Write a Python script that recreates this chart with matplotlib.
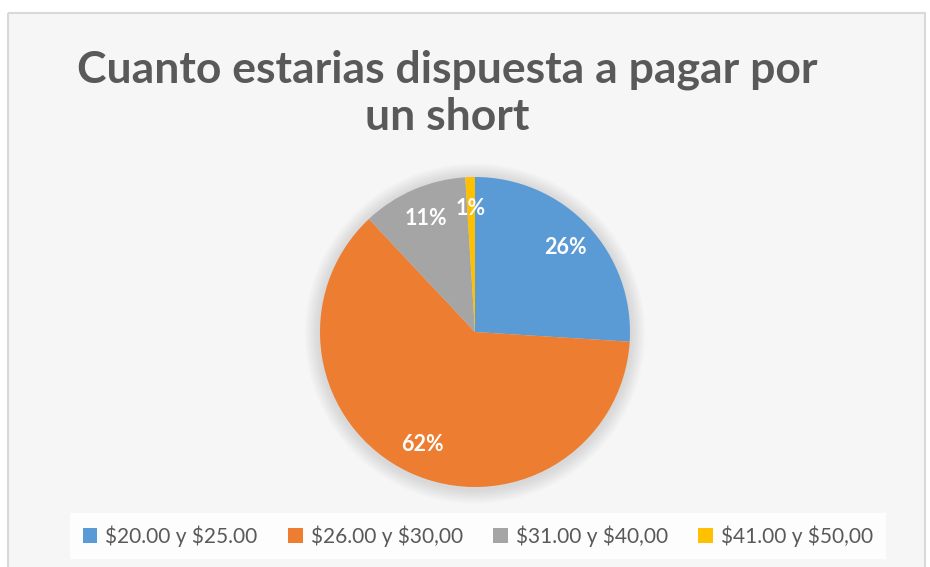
import matplotlib.pyplot as plt
from matplotlib.patches import Rectangle, Circle, Patch

# data
labels = [r'\$20.00 y \$25.00', r'\$26.00 y \$30,00', r'\$31.00 y \$40,00', r'\$41.00 y \$50,00']
values = [26, 62, 11, 1]
colors = ['#5B9BD5', '#ED7D31', '#A5A5A5', '#FFC000']
title = 'Cuanto estarias dispuesta a pagar por\nun short'

plt.rcParams['font.family'] = ['Lato', 'DejaVu Sans']
plt.rcParams['hatch.linewidth'] = 1.2

fig = plt.figure(figsize=(9.3, 5.67), dpi=100)
fig.patch.set_facecolor('white')

# background axes: chart area with light diagonal stripes and thin border
bgax = fig.add_axes([0, 0, 1, 1], zorder=-10)
bgax.set_xlim(0, 930)
bgax.set_ylim(567, 0)
bgax.axis('off')
bgax.add_patch(Rectangle((8, 13), 917, 600, facecolor='white', edgecolor='#f6f6f6',
                         hatch='\\' * 14, linewidth=0))
bgax.add_patch(Rectangle((8, 13), 917, 600, facecolor='none', edgecolor='#d9d9d9', linewidth=1.5))

# pie
ax = fig.add_axes([320 / 930, 80 / 567, 310 / 930, 310 / 567])
ax.set_facecolor('none')

# soft shadow around the pie
for i in range(8):
    ax.add_patch(Circle((0, -0.01), 1.0 + 0.012 * (i + 1), color='#9a9a9a', alpha=0.045,
                        lw=0, zorder=0, clip_on=False))

wedges, texts, autotexts = ax.pie(
    values, colors=colors, startangle=90, counterclock=False,
    autopct='%1.0f%%', pctdistance=0.8,
    wedgeprops=dict(linewidth=0),
    textprops=dict(color='white', fontsize=15.5, fontweight='bold'))
for w in wedges:
    w.set_zorder(2)
for t in autotexts:
    t.set_zorder(3)
ax.set_xlim(-1, 1)
ax.set_ylim(-1, 1)
ax.set_aspect('equal')
ax.axis('off')

fig.text(0.481, 0.836, title, ha='center', va='center', fontsize=32, fontweight='bold',
         color='#595959', linespacing=1.2)

handles = [Patch(facecolor=c, edgecolor='none') for c in colors]
leg = fig.legend(handles, labels, loc='center', bbox_to_anchor=(478 / 930, 1 - 536 / 567),
                 ncol=4, frameon=True, fontsize=15, handlelength=0.7, handleheight=0.7,
                 handletextpad=0.4, columnspacing=1.45, borderpad=0.6, fancybox=False)
leg.get_frame().set_facecolor('white')
leg.get_frame().set_edgecolor('none')
leg.get_frame().set_alpha(0.85)
for t in leg.get_texts():
    t.set_color('#595959')

fig.savefig('out.png', dpi=100)
